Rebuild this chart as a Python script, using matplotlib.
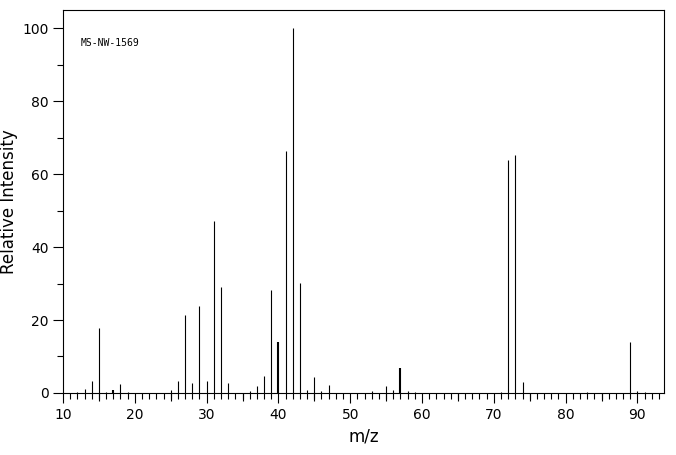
import numpy as np
import matplotlib
matplotlib.use("Agg")
import matplotlib.pyplot as plt
from matplotlib.ticker import MultipleLocator

# peaks
mz = [12, 13, 14, 15, 16, 17, 18, 19, 25, 26, 27, 28, 29, 30, 31, 32, 33,
      36, 37, 38, 39, 40, 41, 42, 43, 44, 45, 46, 47, 53, 55, 56, 57, 58, 59,
      71, 72, 73, 74, 83, 89, 90, 91]
intensity = [0.4, 1.0, 3.4, 17.8, 0.4, 0.8, 2.5, 0.3, 0.7, 3.3, 21.4, 2.7, 23.8, 3.3, 47.1, 29.1, 2.6,
             0.5, 1.9, 4.7, 28.2, 14.0, 66.3, 100.0, 30.1, 0.9, 4.4, 0.6, 2.2, 0.5, 1.9, 0.8, 6.8, 0.5, 0.3,
             0.3, 63.8, 65.2, 3.0, 0.3, 14.0, 0.5, 0.2]
wide_peaks = [17, 40, 57]

fig = plt.figure(figsize=(6.76, 4.55), dpi=100)
ax = fig.add_axes([0.0932, 0.1363, 0.889, 0.842])

lw = [1.5 if m in wide_peaks else 0.8 for m in mz]
ax.vlines(mz, 0, intensity, colors="black", linewidths=lw)

ax.set_xlim(10, 93.7)
ax.set_ylim(0, 105)

ax.xaxis.set_major_locator(MultipleLocator(10))
ax.xaxis.set_minor_locator(MultipleLocator(1))
ax.yaxis.set_major_locator(MultipleLocator(20))
ax.yaxis.set_minor_locator(MultipleLocator(10))
ax.tick_params(which="major", length=7.5, width=0.8, labelsize=10, pad=3)
ax.tick_params(which="minor", length=4.2, width=0.8)

# medium ticks at the fives
sec = ax.secondary_xaxis("bottom")
sec.set_xticks(np.arange(15, 94, 10))
sec.set_xticklabels([])
sec.tick_params(length=5.5, width=0.8)
sec.spines["bottom"].set_visible(False)

for s in ax.spines.values():
    s.set_linewidth(0.8)

ax.set_xlabel("m/z", fontsize=12, labelpad=4)
ax.set_ylabel("Relative Intensity", fontsize=12, labelpad=3)

ax.text(0.03, 0.913, "MS-NW-1569", transform=ax.transAxes, fontsize=7,
        family="DejaVu Sans Mono", va="center")

fig.savefig("out.png", dpi=100)
